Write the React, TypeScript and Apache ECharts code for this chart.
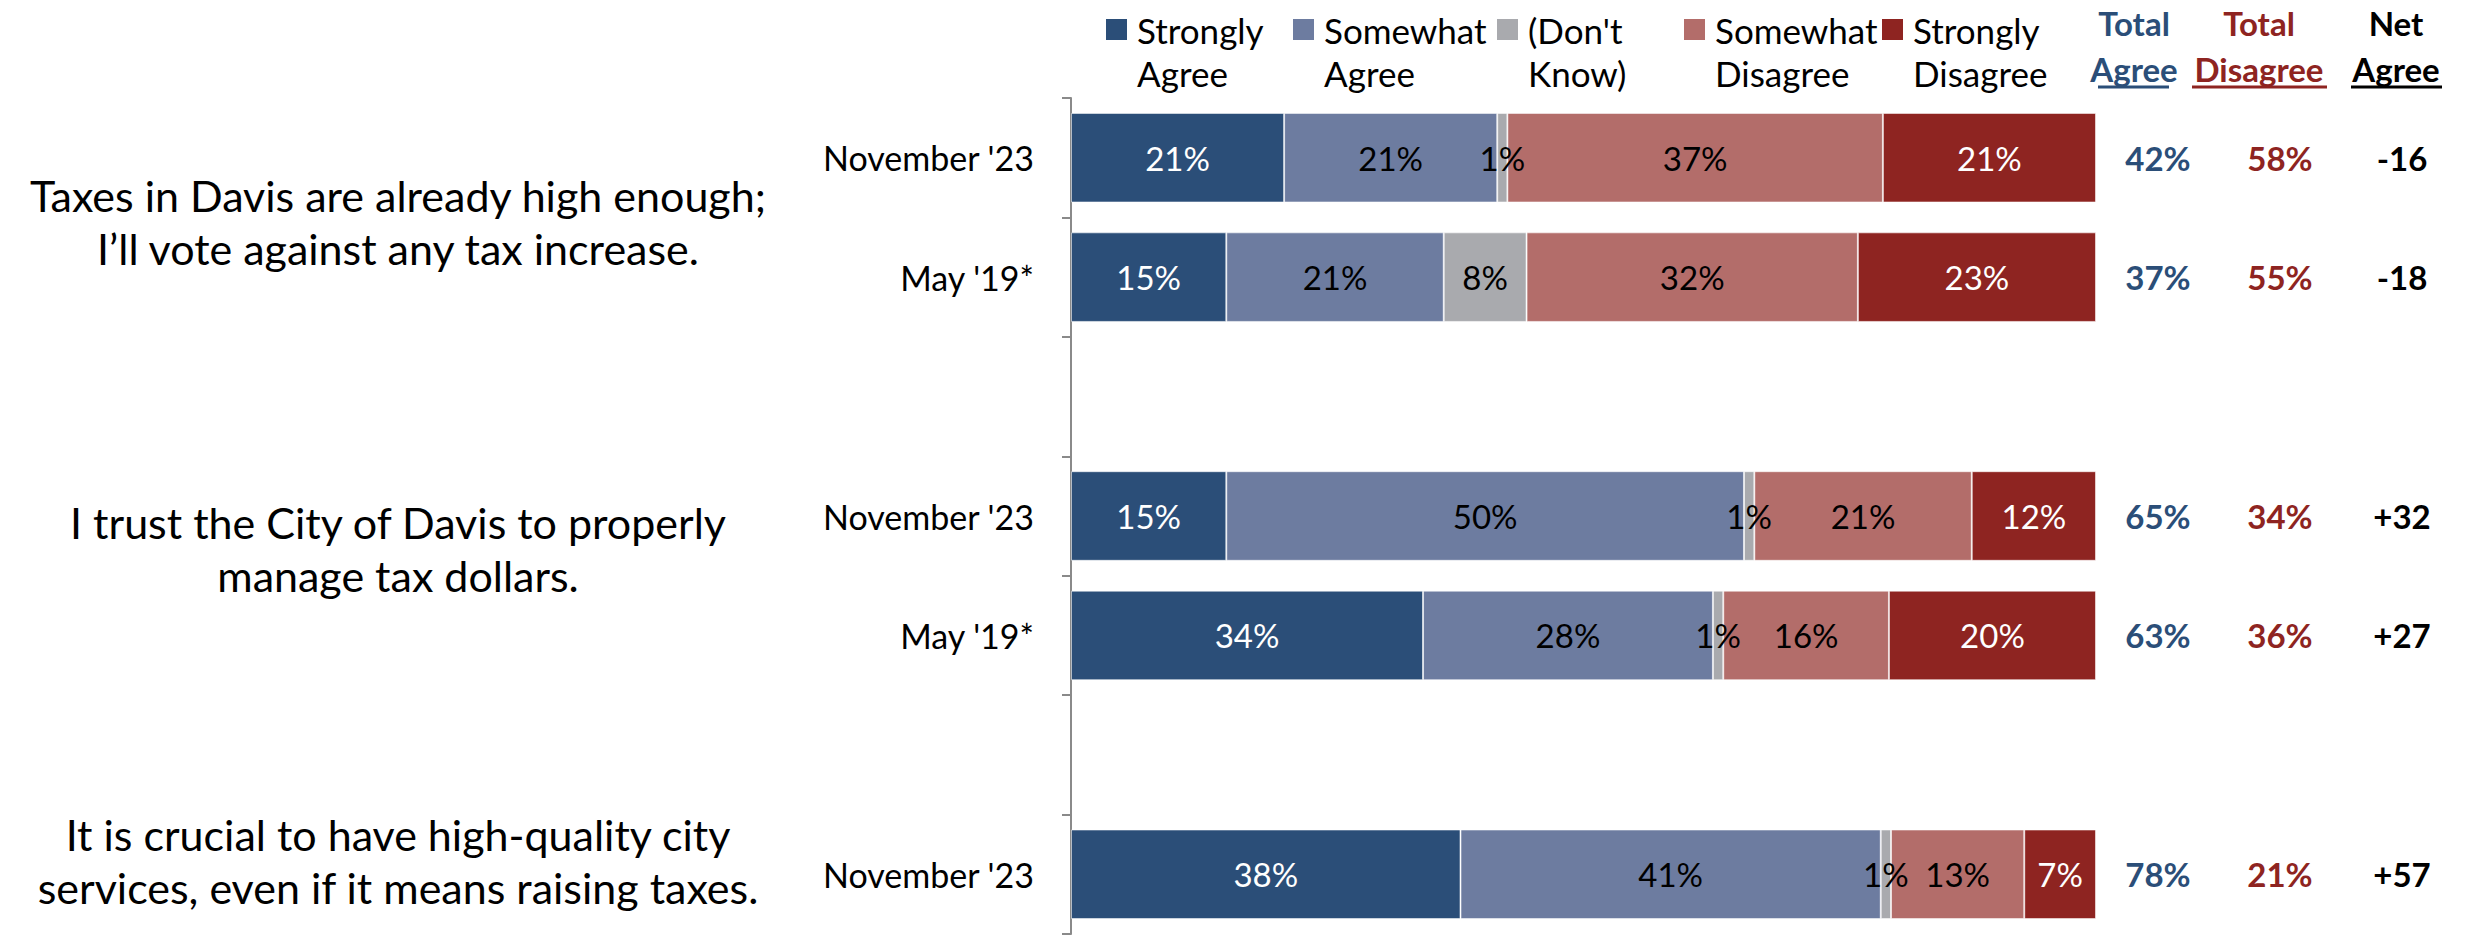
import React, { useEffect, useRef } from "react";
import * as echarts from "echarts";

// ---------- data ----------
const rowLabels = ["November '23", "May '19*", "", "November '23", "May '19*", "", "November '23"];
const seriesNames = ["Strongly\nAgree", "Somewhat\nAgree", "(Don't\nKnow)", "Somewhat\nDisagree", "Strongly\nDisagree"];
const stronglyAgree = [21, 15, null, 15, 34, null, 38];
const somewhatAgree = [21, 21, null, 50, 28, null, 41];
const dontKnow = [1, 8, null, 1, 1, null, 1];
const somewhatDisagree = [37, 32, null, 21, 16, null, 13];
const stronglyDisagree = [21, 23, null, 12, 20, null, 7];
const totalAgree = [42, 37, null, 65, 63, null, 78];
const totalDisagree = [58, 55, null, 34, 36, null, 21];
const netAgree = [-16, -18, null, 32, 27, null, 57];
const summaryColumns = ["Total Agree", "Total Disagree", "Net Agree"];
const questions = [
  "Taxes in Davis are already high enough;\nI\u2019ll vote against any tax increase.",
  "I trust the City of Davis to properly\nmanage tax dollars.",
  "It is crucial to have high-quality city\nservices, even if it means raising taxes.",
];

// ---------- styles / layout ----------
const FONT = "Lato, 'Open Sans', sans-serif";
const COLORS = ["#2B4E78", "#6D7CA0", "#A9AAAE", "#B36D6A", "#8E2421"];
const LABEL_COLORS = ["#ffffff", "#000000", "#000000", "#000000", "#ffffff"];
const AGREE_COLOR = "#2B4E78";
const DISAGREE_COLOR = "#8E2421";
const LEGEND_X = [1106, 1293, 1497, 1684, 1882];
const GRID_TOP = 98;
const GRID_BOTTOM = 1;

const segs = [stronglyAgree, somewhatAgree, dontKnow, somewhatDisagree, stronglyDisagree];
const rowTotals = rowLabels.map((_, i) => segs.reduce((s, a) => s + (a[i] ?? 0), 0));
const rowIds = rowLabels.map((l, i) => `${i}|${l}`);

function buildOption() {
  const barSeries = segs.map((arr, k) => ({
    type: "bar",
    name: seriesNames[k],
    stack: "all",
    xAxisIndex: 0,
    yAxisIndex: 0,
    barCategoryGap: "25%",
    data: arr.map((v, i) => (v == null ? "-" : { value: (v / rowTotals[i]) * 100, raw: v })),
    itemStyle: { color: COLORS[k], borderColor: "rgba(255,255,255,0.55)", borderWidth: 1 },
    label: {
      show: true,
      position: "inside",
      formatter: (p: any) => `${p.data.raw}%`,
      color: LABEL_COLORS[k],
      fontSize: 33,
      fontFamily: FONT,
    },
  }));

  const summaryData = [totalAgree, totalDisagree, netAgree];
  const summaryColors = [AGREE_COLOR, DISAGREE_COLOR, "#000000"];
  const summarySeries = summaryData.map((arr, c) => ({
    type: "custom",
    name: summaryColumns[c],
    xAxisIndex: 1,
    yAxisIndex: 1,
    encode: { x: 0, y: 1 },
    data: arr.map((v, i) => (v == null ? null : [c, i, v])).filter((d) => d != null),
    renderItem: (_params: any, api: any) => {
      const pt = api.coord([api.value(0), api.value(1)]);
      const v = api.value(2);
      const text = c === 2 ? (v > 0 ? `+${v}` : `${v}`) : `${v}%`;
      return {
        type: "text",
        x: pt[0],
        y: pt[1],
        style: {
          text,
          align: "center",
          verticalAlign: "middle",
          fontSize: 33,
          fontWeight: "bold",
          fontFamily: FONT,
          fill: summaryColors[c],
        },
      };
    },
  }));

  const headerText = (x: number, l1: string, l2: string, color: string, ux1: number, ux2: number) => [
    {
      type: "text",
      x,
      y: 46,
      style: {
        text: `${l1}\n${l2}`,
        align: "center",
        verticalAlign: "middle",
        fontSize: 33,
        fontWeight: "bold",
        fontFamily: FONT,
        lineHeight: 46,
        fill: color,
      },
    },
    {
      type: "line",
      shape: { x1: ux1, y1: 87, x2: ux2, y2: 87 },
      style: { stroke: color, lineWidth: 3 },
    },
  ];

  const questionY = [222, 549, 861];
  const graphic = [
    ...questions.map((q, i) => ({
      type: "text",
      x: 398,
      y: questionY[i],
      style: {
        text: q,
        align: "center",
        verticalAlign: "middle",
        fontSize: 43,
        fontFamily: FONT,
        lineHeight: 53,
        fill: "#000",
      },
    })),
    ...headerText(2134, "Total", "Agree", AGREE_COLOR, 2098, 2169),
    ...headerText(2259, "Total", "Disagree", DISAGREE_COLOR, 2192, 2327),
    ...headerText(2396, "Net", "Agree", "#000000", 2351, 2442),
  ];

  return {
    animation: false,
    backgroundColor: "#ffffff",
    textStyle: { fontFamily: FONT },
    legend: seriesNames.map((n, i) => ({
      data: [n],
      left: LEGEND_X[i],
      top: 8,
      padding: 0,
      // 21px square at the top-left of a 26x64 box; the tiny far corner mark only sets the box size
      icon: "path://M0,0H21V21H0Z M25.99,63.99H26V64H25.99Z",
      itemWidth: 26,
      itemHeight: 64,
      selectedMode: false,
      itemStyle: { borderWidth: 0 },
      textStyle: { fontSize: 35, color: "#000", fontFamily: FONT, lineHeight: 43 },
    })),
    grid: [
      { left: 1071, right: 369, top: GRID_TOP, bottom: GRID_BOTTOM },
      { left: 2097, right: 2, top: GRID_TOP, bottom: GRID_BOTTOM },
    ],
    xAxis: [
      { type: "value", gridIndex: 0, min: 0, max: 100, show: false },
      { type: "category", gridIndex: 1, data: summaryColumns, show: false },
    ],
    yAxis: [
      {
        type: "category",
        gridIndex: 0,
        inverse: true,
        data: rowIds,
        axisLine: { show: true, lineStyle: { color: "#8a8a8a", width: 2 } },
        axisTick: { show: true, length: 9, lineStyle: { color: "#8a8a8a", width: 2 } },
        axisLabel: {
          formatter: (v: string) => v.split("|")[1],
          fontSize: 34,
          color: "#000",
          fontFamily: FONT,
          margin: 37,
        },
        splitLine: { show: false },
      },
      { type: "category", gridIndex: 1, inverse: true, data: rowIds, show: false },
    ],
    graphic,
    series: [...barSeries, ...summarySeries],
  };
}

export default function App() {
  const ref = useRef<HTMLDivElement>(null);
  useEffect(() => {
    const chart = echarts.init(ref.current!, null, { renderer: "svg" });
    chart.setOption(buildOption() as any);
    return () => chart.dispose();
  }, []);
  return (
    <div
      ref={ref}
      style={{ position: "fixed", left: 0, top: 0, width: 2465, height: 935, background: "#fff" }}
    />
  );
}
